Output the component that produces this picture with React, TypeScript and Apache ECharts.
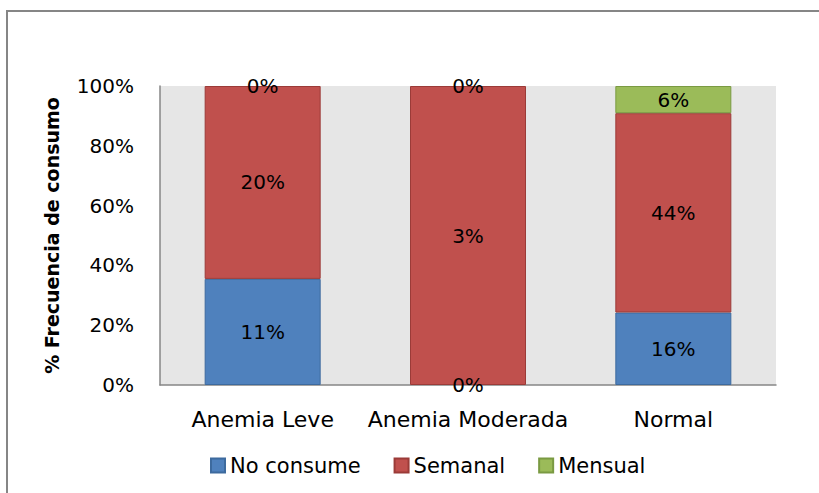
import React, { useEffect, useRef } from "react";
import * as echarts from "echarts";

const categories = ["Anemia Leve", "Anemia Moderada", "Normal"];
const seriesNames = ["No consume", "Semanal", "Mensual"];
const noConsume = [11, 0, 16];
const semanal = [20, 3, 44];
const mensual = [0, 0, 6];
const yTicks = ["0%", "20%", "40%", "60%", "80%", "100%"];

const colors = ["#4f81bd", "#c0504d", "#9bbb59"];
const borders = ["#3d6a9e", "#9b3b38", "#7a9a42"];

export default function App() {
  const ref = useRef<HTMLDivElement>(null);
  useEffect(() => {
    if (!ref.current) return;
    const chart = echarts.init(ref.current, null, { renderer: "svg" });
    const raw = [noConsume, semanal, mensual];
    const totals = categories.map((_, i) => raw.reduce((s, arr) => s + arr[i], 0));
    const font = "DejaVu Sans";
    const series = raw.map((arr, k) => ({
      name: seriesNames[k],
      type: "bar",
      stack: "total",
      barWidth: 116,
      data: arr.map((v, i) => ({
        value: totals[i] ? (v / totals[i]) * 100 : 0,
        itemStyle: { borderWidth: v === 0 ? 0 : 1 },
      })),
      itemStyle: { color: colors[k], borderColor: borders[k], borderWidth: 1 },
      label: {
        show: true,
        position: "inside",
        color: "#000",
        fontFamily: font,
        fontSize: 20,
        formatter: (p: any) => `${arr[p.dataIndex]}%`,
      },
    }));
    chart.setOption({
      animation: false,
      backgroundColor: "#ffffff",
      textStyle: { fontFamily: font },
      graphic: [
        {
          type: "rect",
          shape: { x: 7, y: 11, width: 900, height: 600 },
          style: { fill: "none", stroke: "#868686", lineWidth: 2 },
        },
      ],
      grid: {
        left: 160,
        right: 43,
        top: 86,
        bottom: 108,
        show: true,
        backgroundColor: "#e6e6e6",
        borderWidth: 0,
      },
      legend: {
        data: seriesNames,
        left: 205,
        top: 450,
        itemWidth: 14,
        itemHeight: 14,
        itemGap: 33,
        itemTextGap: 5,
        icon: "rect",
        textStyle: { fontFamily: font, fontSize: 21, color: "#000" },
      },
      xAxis: {
        type: "category",
        data: categories,
        axisLine: { show: true, lineStyle: { color: "#868686", width: 1.5 } },
        axisTick: { show: false },
        axisLabel: { color: "#000", fontFamily: font, fontSize: 22, margin: 23, interval: 0 },
      },
      yAxis: {
        type: "value",
        min: 0,
        max: 100,
        interval: 20,
        name: "% Frecuencia de consumo",
        nameLocation: "middle",
        nameGap: 99,
        nameTextStyle: { fontFamily: font, fontSize: 19, fontWeight: "bold", color: "#000" },
        axisLine: { show: true, lineStyle: { color: "#868686", width: 1.5 } },
        axisTick: { show: false },
        splitLine: { show: false },
        axisLabel: {
          color: "#000",
          fontFamily: font,
          fontSize: 20,
          margin: 26,
          formatter: (v: number) => yTicks[Math.round(v / 20)],
        },
      },
      series,
    });
    return () => chart.dispose();
  }, []);
  return (
    <div
      ref={ref}
      style={{ position: "fixed", left: 0, top: 0, width: 819, height: 493 }}
    />
  );
}
